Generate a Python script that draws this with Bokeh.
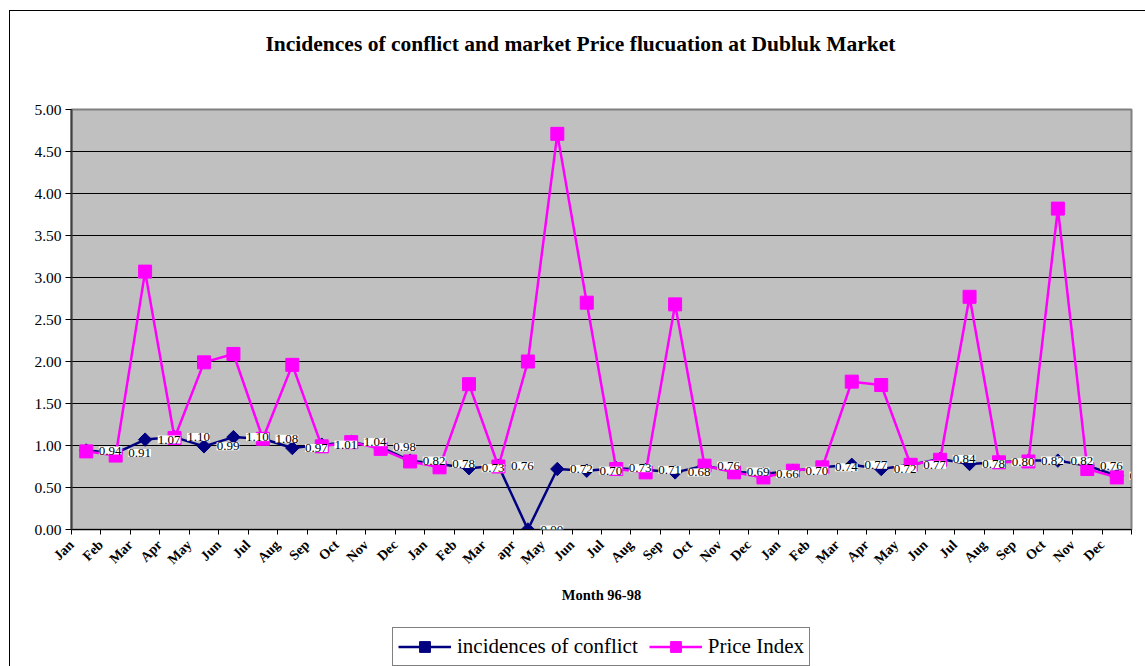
import numpy as np
from bokeh.plotting import figure
from bokeh.layouts import column
from bokeh.models import (Range1d, FixedTicker, NumeralTickFormatter, ColumnDataSource,
                          LabelSet, Legend, LegendItem, Title)
from bokeh.embed import file_html
from bokeh.resources import INLINE

months = ["Jan", "Feb", "Mar", "Apr", "May", "Jun", "Jul", "Aug", "Sep", "Oct", "Nov", "Dec",
          "Jan", "Feb", "Mar", "apr", "May", "Jun", "Jul", "Aug", "Sep", "Oct", "Nov", "Dec",
          "Jan", "Feb", "Mar", "Apr", "May", "Jun", "Jul", "Aug", "Sep", "Oct", "Nov", "Dec"]

conflict = [0.94, 0.91, 1.07, 1.10, 0.99, 1.10, 1.08, 0.97, 1.01, 1.04, 0.98, 0.82,
            0.78, 0.73, 0.76, 0.00, 0.72, 0.70, 0.73, 0.71, 0.68, 0.76, 0.69, 0.66,
            0.70, 0.74, 0.77, 0.72, 0.77, 0.84, 0.78, 0.80, 0.82, 0.82, 0.76, 0.64]

price = [0.93, 0.88, 3.07, 1.09, 1.99, 2.09, 1.08, 1.96, 0.99, 1.04, 0.96, 0.81,
         0.74, 1.73, 0.75, 2.00, 4.71, 2.70, 0.72, 0.68, 2.68, 0.76, 0.68, 0.62,
         0.70, 0.74, 1.76, 1.72, 0.77, 0.83, 2.77, 0.80, 0.81, 3.82, 0.72, 0.62]

title_text = "Incidences of conflict and market Price flucuation at Dubluk Market"
x_title = "Month 96-98"
series_names = ["incidences of conflict", "Price Index"]

SERIF = "Liberation Serif"
NAVY = "#000080"
MAGENTA = "#FF00FF"

n = len(months)
xs = np.arange(n) + 0.5

src = ColumnDataSource(dict(x=xs, conflict=conflict, price=price,
                            clabel=["%.2f" % v for v in conflict]))

p = figure(width=1145, height=619, output_backend="svg", toolbar_location=None,
           x_range=Range1d(0, n), y_range=Range1d(0, 5),
           min_border_left=71, min_border_right=14, min_border_top=109, min_border_bottom=90)

# outer chart border (top and left edges visible in the reference)
p.border_fill_alpha = 0
p.styles = {"background":
            "linear-gradient(#000,#000) 9px 10px / 1px 100% no-repeat, "
            "linear-gradient(#000,#000) 9px 10px / 100% 1px no-repeat, #ffffff"}

# spacer between frame and title
p.add_layout(Title(text=" ", text_font_size="10px", standoff=41), "above")

p.title.text = title_text
p.title.align = "left"
p.title.offset = 194
p.title.text_font = SERIF
p.title.text_font_style = "bold"
p.title.text_font_size = "21.5px"
p.title.text_color = "black"
p.title.standoff = 0

p.background_fill_color = "#C0C0C0"
p.outline_line_color = "#808080"
p.outline_line_width = 2

p.xgrid.grid_line_color = None
p.ygrid.grid_line_color = "black"
p.ygrid.grid_line_width = 1
p.ygrid.ticker = FixedTicker(ticks=[0.5 * i for i in range(11)])

# y axis
p.yaxis.ticker = FixedTicker(ticks=[0.5 * i for i in range(11)])
p.yaxis.formatter = NumeralTickFormatter(format="0.00")
p.yaxis.major_label_text_font = SERIF
p.yaxis.major_label_text_font_size = "15.5px"
p.yaxis.major_label_text_color = "black"
p.yaxis.major_tick_in = 0
p.yaxis.major_tick_out = 6
p.yaxis.minor_tick_line_color = None
p.yaxis.axis_line_color = "#404040"
p.yaxis.axis_line_width = 2
p.yaxis.major_label_standoff = 4

# x axis: ticks at category boundaries, labels ending at the left boundary
p.xaxis.ticker = FixedTicker(ticks=list(range(n + 1)))
overrides = {i: months[i] for i in range(n)}
overrides[n] = ""
p.xaxis.major_label_overrides = overrides
p.xaxis.major_label_orientation = np.pi / 4
p.xaxis.major_label_text_font = SERIF
p.xaxis.major_label_text_font_style = "bold"
p.xaxis.major_label_text_font_size = "14px"
p.xaxis.major_label_text_color = "black"
p.xaxis.major_label_standoff = 8
p.xaxis.major_tick_in = 0
p.xaxis.major_tick_out = 5
p.xaxis.minor_tick_line_color = None
p.xaxis.axis_line_color = "black"
p.xaxis.axis_line_width = 1
p.xaxis.axis_label = x_title
p.xaxis.axis_label_text_font = SERIF
p.xaxis.axis_label_text_font_style = "bold"
p.xaxis.axis_label_text_font_size = "14.5px"
p.xaxis.axis_label_text_color = "black"
p.xaxis.axis_label_standoff = 12

# series
l1 = p.line("x", "conflict", source=src, line_color=NAVY, line_width=2.5)
s1 = p.scatter("x", "conflict", source=src, marker="square", angle=np.pi / 4, size=9.5,
               fill_color=NAVY, line_color=NAVY)
l2 = p.line("x", "price", source=src, line_color=MAGENTA, line_width=2.5)
s2 = p.scatter("x", "price", source=src, marker="square", size=13,
               fill_color=MAGENTA, line_color=MAGENTA)

label_kwargs = dict(x="x", y="conflict", text="clabel", source=src, x_offset=24,
                    text_align="center", text_baseline="middle",
                    text_font=SERIF, text_font_size="13px", text_color="black",
                    background_fill_color="white")
if "padding" in LabelSet.properties():
    label_kwargs["padding"] = 1
labels = LabelSet(**label_kwargs)
p.add_layout(labels)

# legend strip below the chart (same borders as the chart so the frames stay aligned;
# its renderers carry the same series but lie outside the strip's view)
lf = figure(width=1145, height=47, output_backend="svg", toolbar_location=None,
            x_axis_location=None, y_axis_location=None,
            x_range=Range1d(0, n), y_range=Range1d(100, 101),
            min_border_left=71, min_border_right=14, min_border_top=0, min_border_bottom=0)
lf.grid.visible = False
lf.outline_line_color = None
lf.background_fill_alpha = 0
lf.border_fill_alpha = 0
lf.styles = {"background": "linear-gradient(#000,#000) 9px 0px / 1px 100% no-repeat, #ffffff"}

g1 = lf.line("x", "conflict", source=src, line_color=NAVY, line_width=2.5)
h1 = lf.scatter("x", "conflict", source=src, marker="square", angle=np.pi / 4, size=11,
                fill_color=NAVY, line_color=NAVY)
g2 = lf.line("x", "price", source=src, line_color=MAGENTA, line_width=2.5)
h2 = lf.scatter("x", "price", source=src, marker="square", size=13,
                fill_color=MAGENTA, line_color=MAGENTA)

legend = Legend(items=[LegendItem(label=series_names[0], renderers=[g1, h1]),
                       LegendItem(label=series_names[1], renderers=[g2, h2])],
                orientation="horizontal", location="top_center",
                label_text_font=SERIF, label_text_font_size="21px", label_text_color="black",
                glyph_width=53, glyph_height=27, label_height=27, label_standoff=6,
                spacing=11, padding=5, margin=8,
                border_line_color="black", border_line_width=1,
                background_fill_color="white", background_fill_alpha=1)
lf.add_layout(legend, "center")

layout = column(p, lf, spacing=0)

open("out.html", "w").write(file_html(layout, INLINE))
